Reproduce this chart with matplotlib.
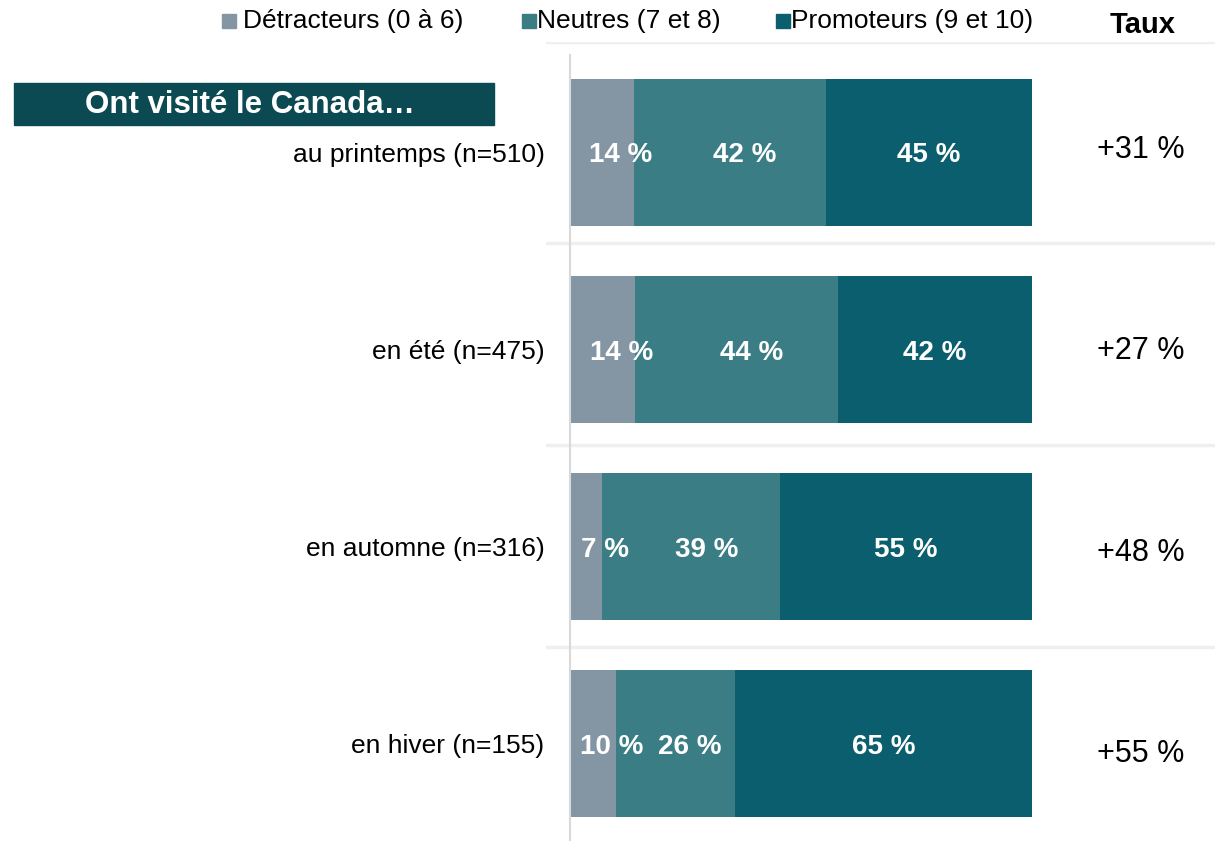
import matplotlib
matplotlib.use("Agg")
import matplotlib.pyplot as plt
import matplotlib.patches as mpatches

plt.rcParams['font.family'] = ['Liberation Sans', 'DejaVu Sans']

# data
categories = ["au printemps (n=510)", "en été (n=475)",
              "en automne (n=316)", "en hiver (n=155)"]
detracteurs = [14, 14, 7, 10]
neutres = [42, 44, 39, 26]
promoteurs = [45, 42, 55, 65]
taux = ["+31 %", "+27 %", "+48 %", "+55 %"]
series_names = ["Détracteurs (0 à 6)", "Neutres (7 et 8)", "Promoteurs (9 et 10)"]

colors = ["#8496a3", "#3a7d85", "#0a5e6d"]
W, H = 1215, 847

fig = plt.figure(figsize=(W / 100, H / 100), dpi=100)
# axes spans from x=546px to right edge, y from 42px to bottom
ax = fig.add_axes([546 / W, 0, 1 - 546 / W, (H - 42) / H])

ypos = list(range(len(categories)))
# bars are stacked to 100 % of each row (rounded labels may not add to 100)
totals = [d + n + p for d, n, p in zip(detracteurs, neutres, promoteurs)]
series = [detracteurs, neutres, promoteurs]
left = [0.0] * len(categories)
starts = []
for vals, col in zip(series, colors):
    shares = [v / t * 100 for v, t in zip(vals, totals)]
    ax.barh(ypos, shares, left=left, height=0.746, color=col, edgecolor='none')
    starts.append((list(left), shares))
    left = [a + b for a, b in zip(left, shares)]

px_per_unit = 462 / 100
row_px = 197

# value labels inside bars (small segments nudged right like the original)
shifts = [19 / px_per_unit, 15 / px_per_unit, 0]
for k, vals in enumerate(series):
    lft, shares = starts[k]
    for i in ypos:
        ax.text(lft[i] + shares[i] / 2 + shifts[k], i + 3 / row_px, f"{vals[i]} %",
                ha='center', va='center', color='white', fontsize=20,
                fontweight='bold')

# NPS column sits on a slightly wider grid than the bars
for i in ypos:
    y_px = 150 + 201.3 * i
    ax.text((1141 - 570) / px_per_unit, (y_px - 152.5) / row_px, taux[i],
            ha='center', va='center', fontsize=22, color='black')

ax.set_xlim(-24 / px_per_unit, 100 + 183 / px_per_unit)
ax.set_ylim(3 + (847 - 743.5) / row_px, 0 - (152.5 - 42) / row_px)

for y_px in [42, 243, 445, 647]:
    ax.axhline((y_px - 152.5) / row_px, color='#efefef', lw=2.5, zorder=0)
ax.axvline(0, ymin=7 / 805, ymax=792 / 805, color='#d9d9d9', lw=1.5, zorder=3)

ax.set_yticks(ypos)
ax.set_yticklabels(categories, fontsize=19)
ax.tick_params(axis='y', length=0, pad=1)
ax.set_xticks([])
for sp in ax.spines.values():
    sp.set_visible(False)

# legend, laid out by hand
leg_sq = [222, 522, 776]
leg_txt = [243, 537, 791]
for xs, xt, c, name in zip(leg_sq, leg_txt, colors, series_names):
    fig.patches.append(mpatches.Rectangle((xs / W, 1 - 28 / H), 14 / W, 14 / H,
                                          transform=fig.transFigure, color=c))
    fig.text(xt / W, 1 - 21 / H, name, ha='left', va='center', fontsize=19)

fig.text(1143 / W, 1 - 25 / H, "Taux", ha='center', va='center',
         fontsize=21, fontweight='bold')

# title box
fig.patches.append(mpatches.Rectangle((14 / W, 1 - 125 / H), 480 / W, 42 / H,
                                      transform=fig.transFigure, color='#0b4a52'))
fig.text(250 / W, 1 - 105 / H, "Ont visité le Canada…", ha='center', va='center',
         fontsize=22.5, fontweight='bold', color='white')

fig.savefig("out.png", dpi=100)
